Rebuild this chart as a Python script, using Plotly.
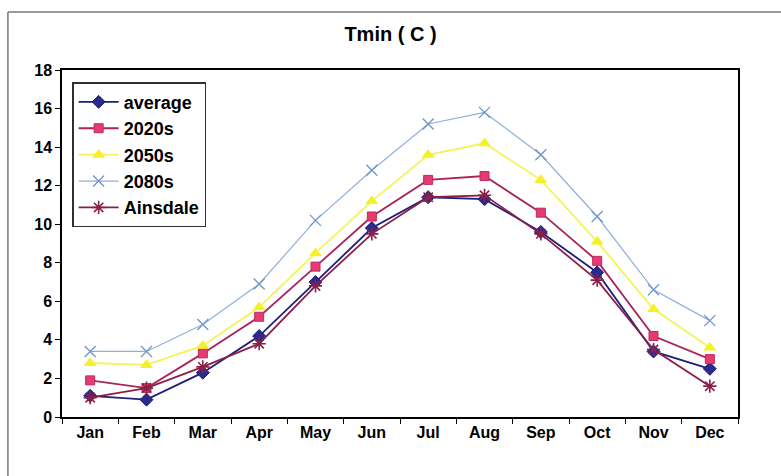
import plotly.graph_objects as go

months = ["Jan", "Feb", "Mar", "Apr", "May", "Jun", "Jul", "Aug", "Sep", "Oct", "Nov", "Dec"]
average = [1.1, 0.9, 2.3, 4.2, 7.0, 9.8, 11.4, 11.3, 9.6, 7.5, 3.4, 2.5]
s2020 = [1.9, 1.5, 3.3, 5.2, 7.8, 10.4, 12.3, 12.5, 10.6, 8.1, 4.2, 3.0]
s2050 = [2.8, 2.7, 3.7, 5.7, 8.5, 11.2, 13.6, 14.2, 12.3, 9.1, 5.6, 3.6]
s2080 = [3.4, 3.4, 4.8, 6.9, 10.2, 12.8, 15.2, 15.8, 13.6, 10.4, 6.6, 5.0]
ainsdale = [1.0, 1.5, 2.6, 3.8, 6.8, 9.5, 11.4, 11.5, 9.5, 7.1, 3.5, 1.6]

FONT = "Liberation Sans"

series = [
    ("average", average, "#1f1f78", dict(symbol="diamond", size=10, color="#2a2a8c",
                                          line=dict(color="#1f1f78", width=1)), 1.8),
    ("2020s", s2020, "#a8245a", dict(symbol="square", size=9, color="#e63a72",
                                      line=dict(color="#c02a5c", width=1)), 1.8),
    ("2050s", s2050, "#f4f45a", dict(symbol="triangle-up", size=10, color="#f5f02a",
                                      line=dict(color="#f5f02a", width=1)), 1.8),
    ("2080s", s2080, "#8fb0d8", dict(symbol="x-thin-open", size=11, color="#6f96cc",
                                      line=dict(color="#6f96cc", width=1.3)), 1.2),
    ("Ainsdale", ainsdale, "#8a2048", dict(symbol="asterisk-open", size=11, color="#8a2048",
                                            line=dict(color="#8a2048", width=1.6)), 1.8),
]

fig = go.Figure()
for name, vals, lc, marker, lw in series:
    fig.add_trace(go.Scatter(
        x=months, y=vals, name=name, mode="lines+markers",
        line=dict(color=lc, width=lw), marker=marker,
    ))

fig.update_layout(
    width=781, height=476,
    margin=dict(l=62, r=43, t=70, b=59),
    paper_bgcolor="white", plot_bgcolor="white",
    font=dict(family=FONT, size=14, color="black"),
    title=dict(text="<b>Tmin ( C )</b>", x=0.5, xanchor="center", y=0.928, yanchor="middle",
               font=dict(family=FONT, size=20, color="black")),
    showlegend=True,
    legend=dict(x=0.015, y=0.965, xanchor="left", yanchor="top",
                bgcolor="white", bordercolor="#303030", borderwidth=1.5,
                font=dict(family=FONT, size=18, color="black", weight="bold"),
                tracegroupgap=0, itemwidth=40),
    xaxis=dict(type="category", tickson="boundaries", ticks="outside", ticklen=5,
               tickcolor="black", showline=True, linecolor="black", linewidth=1.5,
               mirror=True, showgrid=False, range=[-0.5, 11.5],
               tickfont=dict(family=FONT, size=16, weight="bold")),
    yaxis=dict(range=[0, 18], dtick=2, ticks="outside", ticklen=5, tickcolor="black",
               showline=True, linecolor="black", linewidth=1.5, mirror=True,
               showgrid=False, zeroline=False,
               tickfont=dict(family=FONT, size=16, weight="bold")),
    shapes=[
        dict(type="line", xref="paper", yref="paper", x0=-0.08, x1=1.1, y0=1.167, y1=1.167,
             line=dict(color="#7a7a7a", width=1.5)),
        dict(type="line", xref="paper", yref="paper", x0=-0.08, x1=-0.08, y0=1.167, y1=-0.2,
             line=dict(color="#7a7a7a", width=1.5)),
    ],
)

fig.write_html("out.html")
